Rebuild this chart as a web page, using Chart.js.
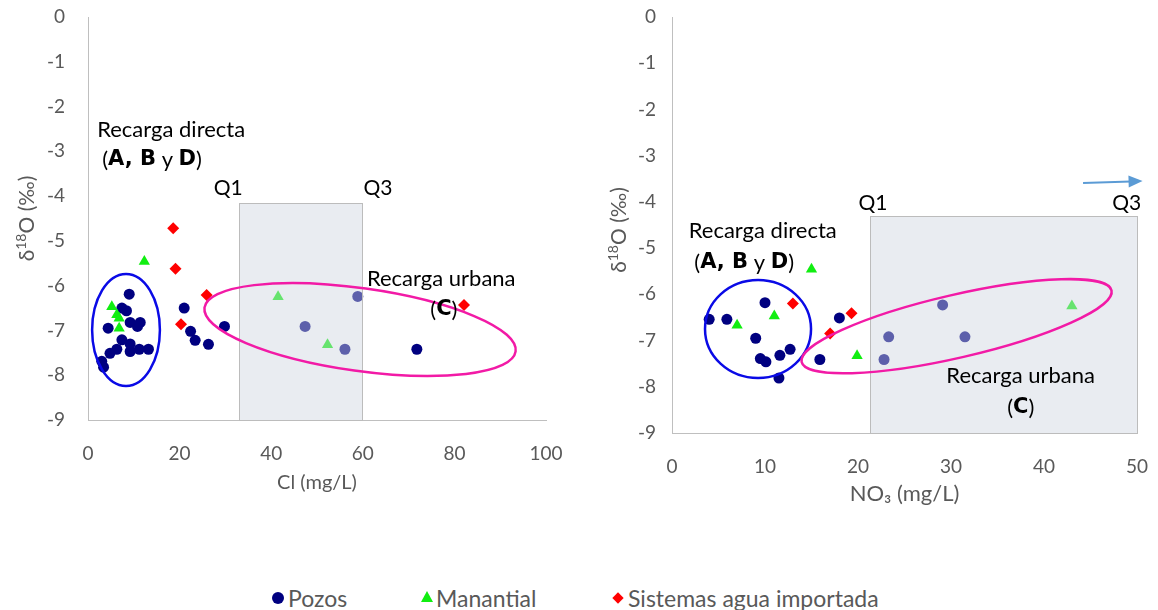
<!DOCTYPE html>
<html><head><meta charset="utf-8">
<script src="https://cdn.jsdelivr.net/npm/chart.js@4.4.0/dist/chart.umd.min.js"></script>
<style>
html,body{margin:0;padding:0;background:#fff}
body{width:1158px;height:610px;overflow:hidden;position:relative;font-family:Lato,"Open Sans",sans-serif}
#c1{position:absolute;left:0;top:0}
#c2{position:absolute;left:580px;top:0}
.lgt{position:absolute;top:583px;height:30px;line-height:30px;font-size:23px;color:#595959;white-space:nowrap}
.mk{position:absolute}
#m1{left:272px;top:592px;width:12px;height:12px;border-radius:50%;background:#000080}
#m2{left:421px;top:591px;width:0;height:0;border-left:6px solid transparent;border-right:6px solid transparent;border-bottom:11px solid #11ee11}
#m3{left:614px;top:594px;width:8px;height:8px;background:#ff0000;transform:rotate(45deg)}
</style>
</head><body>
<canvas id="c1" width="580" height="520"></canvas>
<canvas id="c2" width="578" height="520"></canvas>
<div class="mk" id="m1"></div><div class="lgt" style="left:288px">Pozos</div>
<div class="mk" id="m2"></div><div class="lgt" style="left:436px">Manantial</div>
<div class="mk" id="m3"></div><div class="lgt" style="left:628px">Sistemas agua importada</div>
<script>
// ---------- DATA ----------
const seriesNames = ['Pozos', 'Manantial', 'Sistemas agua importada'];
const d18Ticks = [0, -1, -2, -3, -4, -5, -6, -7, -8, -9];
const clTicks = [0, 20, 40, 60, 80, 100];
const no3Ticks = [0, 10, 20, 30, 40, 50];

// Left panel: Cl (mg/L) vs δ18O
const clPozosX = [9.0, 7.4, 8.4, 4.4, 9.2, 11.4, 10.8, 7.4, 9.2, 9.2, 6.3, 4.8, 11.2, 13.2, 3.0, 3.4, 21.0, 22.4, 23.4, 26.3, 29.8, 58.9, 47.4, 56.1, 71.8];
const clPozosY = [-6.19, -6.50, -6.56, -6.95, -6.82, -6.82, -6.91, -7.21, -7.30, -7.47, -7.42, -7.51, -7.42, -7.42, -7.69, -7.82, -6.50, -7.02, -7.22, -7.31, -6.91, -6.24, -6.91, -7.42, -7.42];
const clManantialX = [12.3, 5.2, 6.3, 6.8, 6.8, 41.5, 52.3];
const clManantialY = [-5.46, -6.47, -6.65, -6.73, -6.95, -6.25, -7.32];
const clSistemasX = [18.6, 19.1, 25.9, 20.3, 82.1];
const clSistemasY = [-4.72, -5.62, -6.21, -6.86, -6.43];

// Right panel: NO3 (mg/L) vs δ18O
const no3PozosX = [4.0, 5.9, 10.0, 9.0, 9.5, 10.1, 11.6, 12.7, 11.5, 18.0, 15.9, 29.1, 23.3, 31.5, 22.8];
const no3PozosY = [-6.54, -6.54, -6.18, -6.95, -7.39, -7.46, -7.32, -7.19, -7.81, -6.51, -7.41, -6.23, -6.92, -6.92, -7.41];
const no3ManantialX = [15.0, 7.0, 11.0, 19.9, 43.0];
const no3ManantialY = [-5.46, -6.67, -6.47, -7.33, -6.25];
const no3SistemasX = [13.0, 19.3, 17.0];
const no3SistemasY = [-6.20, -6.41, -6.85];

// Quartile ranges (Q1–Q3)
const clQuartiles = [33.0, 59.8];
const no3Quartiles = [21.3, 50.0];

// ---------- STYLE / LAYOUT ----------
const FONT = 'Lato, "Open Sans", sans-serif';
const GREY = '#595959';
const COLORS = ['#000080', '#11ee11', '#ff0000'];
const STYLES = ['circle', 'triangle', 'rectRot'];
const RADII = [5.5, 6.5, 6];

const pts = (xs, ys) => xs.map((v, i) => ({x: v, y: ys[i]}));

function drawParts(ctx, parts, sx, sy, align) {
  const w = parts.map(p => { ctx.font = p.font; return ctx.measureText(p.text).width; });
  if (align === 'center') sx -= w.reduce((a, b) => a + b, 0) / 2;
  parts.forEach((p, i) => { ctx.font = p.font; ctx.fillText(p.text, sx, sy + (p.dy || 0)); sx += w[i]; });
}

const annotate = {
  id: 'annotate',
  afterDatasetsDraw(chart, args, o) {
    const {ctx} = chart;
    const xs = chart.scales.x, ys = chart.scales.y;
    const px = v => xs.getPixelForValue(v), py = v => ys.getPixelForValue(v);
    ctx.save();
    // shaded Q1–Q3 box, semi-transparent over the points
    const bx0 = Math.round(px(o.box.x0)) + 0.5, bx1 = Math.round(px(o.box.x1)) + 0.5;
    const by0 = Math.round(py(o.box.yTop)) + 0.5, by1 = Math.round(py(-9)) + 0.5;
    ctx.fillStyle = 'rgba(206,213,224,0.45)';
    ctx.fillRect(bx0, by0, bx1 - bx0, by1 - by0);
    ctx.strokeStyle = '#bcbcbc'; ctx.lineWidth = 1;
    ctx.strokeRect(bx0, by0, bx1 - bx0, by1 - by0);
    // ellipses
    for (const e of o.ellipses) {
      const cx = px(e.cx), cy = py(e.cy);
      const rx = Math.abs(px(e.cx + e.rx) - cx), ry = Math.abs(py(e.cy + e.ry) - cy);
      ctx.beginPath();
      ctx.ellipse(cx, cy, rx, ry, e.rot * Math.PI / 180, 0, 2 * Math.PI);
      ctx.strokeStyle = e.color; ctx.lineWidth = 2.5; ctx.stroke();
    }
    // texts
    ctx.textBaseline = 'middle'; ctx.textAlign = 'left'; ctx.fillStyle = '#000';
    for (const t of o.texts) {
      const parts = t.parts.map(p => ({text: p[0], font: p[1] ? 'bold 21px "DejaVu Sans", Lato, sans-serif' : (t.size || 22) + 'px ' + FONT}));
      drawParts(ctx, parts, px(t.x), py(t.y), t.align);
    }
    // arrow
    if (o.arrow) {
      const a = o.arrow;
      const x0 = px(a.x0), y0 = py(a.y0), x1 = px(a.x1), y1 = py(a.y1);
      const ang = Math.atan2(y1 - y0, x1 - x0), c = Math.cos(ang), s = Math.sin(ang);
      ctx.strokeStyle = '#5b9bd5'; ctx.fillStyle = '#5b9bd5'; ctx.lineWidth = 2;
      ctx.beginPath(); ctx.moveTo(x0, y0); ctx.lineTo(x1 - 12 * c, y1 - 12 * s); ctx.stroke();
      ctx.beginPath(); ctx.moveTo(x1, y1);
      ctx.lineTo(x1 - 14 * c + 6 * s, y1 - 14 * s - 6 * c);
      ctx.lineTo(x1 - 14 * c - 6 * s, y1 - 14 * s + 6 * c);
      ctx.closePath(); ctx.fill();
    }
    // rotated y-axis title δ18O (‰) with superscript
    ctx.save();
    ctx.translate(o.yTitle.x, (chart.chartArea.top + chart.chartArea.bottom) / 2 + o.yTitle.dy);
    ctx.rotate(-Math.PI / 2);
    ctx.fillStyle = GREY;
    drawParts(ctx, [
      {text: 'δ', font: '21px ' + FONT},
      {text: '18', font: '14px ' + FONT, dy: -6},
      {text: 'O (‰)', font: '21px ' + FONT}
    ], 0, 0, 'center');
    ctx.restore();
    ctx.restore();
  }
};

function makeChart(id, p) {
  const datasets = p.series.map((s, i) => ({
    label: seriesNames[i], data: s, order: 3 - i,
    pointStyle: STYLES[i], pointRadius: RADII[i], pointHoverRadius: RADII[i],
    backgroundColor: COLORS[i], borderColor: COLORS[i], borderWidth: 0, showLine: false
  }));
  const chart = new Chart(document.getElementById(id), {
    type: 'scatter',
    data: {datasets},
    plugins: [annotate],
    options: {
      responsive: false, animation: false, devicePixelRatio: 1,
      layout: {padding: {left: 0, top: p.area.top, right: p.canvasW - p.area.right, bottom: 0}},
      plugins: {legend: {display: false}, tooltip: {enabled: false}, annotate: p.annot},
      scales: {
        x: {
          type: 'linear', min: p.xTicks[0], max: p.xTicks[p.xTicks.length - 1],
          afterBuildTicks: s => { s.ticks = p.xTicks.map(v => ({value: v})); },
          afterFit: s => { s.height = p.xHeight; s.paddingLeft = 0; s.paddingRight = 0; },
          grid: {display: false, drawTicks: false},
          border: {display: true, color: '#bfbfbf', width: 1},
          ticks: {color: GREY, font: {family: FONT, size: 19}, padding: 22, maxRotation: 0},
          title: {display: true, text: p.xTitle, color: GREY, font: {family: FONT, size: p.xTitleSize}, padding: {top: 0, bottom: p.xTitlePad}}
        },
        y: {
          type: 'linear', min: -9, max: 0,
          afterBuildTicks: s => { s.ticks = d18Ticks.map(v => ({value: v})); },
          afterFit: s => { s.width = p.yWidth; s.paddingTop = 0; s.paddingBottom = 0; },
          grid: {display: false, drawTicks: false},
          border: {display: true, color: '#bfbfbf', width: 1},
          ticks: {color: GREY, font: {family: FONT, size: 19}, padding: p.yTickPad},
          title: {display: false}
        }
      }
    }
  });
  // nudge layout so the plot area lands exactly on the target rectangle
  for (let k = 0; k < 4; k++) {
    const a = chart.chartArea, t = p.area;
    const dl = t.left - a.left, dt = t.top - a.top, dr = a.right - t.right, db = a.bottom - t.bottom;
    if (Math.abs(dl) + Math.abs(dt) + Math.abs(dr) + Math.abs(db) < 0.5) break;
    p.yWidth += dl; p.xHeight += db;
    const pad = chart.options.layout.padding;
    pad.top += dt; pad.right += dr;
    chart.update();
  }
  return chart;
}

makeChart('c1', {
  series: [pts(clPozosX, clPozosY), pts(clManantialX, clManantialY), pts(clSistemasX, clSistemasY)],
  canvasW: 580, area: {left: 88, top: 17, right: 546, bottom: 420},
  xTicks: clTicks, xTitle: 'Cl (mg/L)', xTitleSize: 20, xHeight: 100, xTitlePad: 25, yWidth: 88, yTickPad: 23,
  annot: {
    yTitle: {x: 27, dy: 0},
    box: {x0: clQuartiles[0], x1: clQuartiles[1], yTop: -4.15},
    ellipses: [
      {cx: 8.3, cy: -6.99, rx: 7.4, ry: 1.25, rot: 0, color: '#0a0ae6'},
      {cx: 59.4, cy: -6.98, rx: 34.3, ry: 0.924, rot: 8, color: '#f21aa6'}
    ],
    texts: [
      {parts: [['Q1', 0]], x: 30.6, y: -3.82, align: 'center', size: 21},
      {parts: [['Q3', 0]], x: 63.3, y: -3.82, align: 'center', size: 21},
      {parts: [['Recarga directa', 0]], x: 2.0, y: -2.52},
      {parts: [['(', 0], ['A, B', 1], [' y ', 0], ['D', 1], [')', 0]], x: 3.1, y: -3.19},
      {parts: [['Recarga urbana', 0]], x: 60.9, y: -5.85},
      {parts: [['(', 0], ['C', 1], [')', 0]], x: 77.7, y: -6.54, align: 'center'}
    ]
  }
});

makeChart('c2', {
  series: [pts(no3PozosX, no3PozosY), pts(no3ManantialX, no3ManantialY), pts(no3SistemasX, no3SistemasY)],
  canvasW: 578, area: {left: 92, top: 17, right: 557, bottom: 433},
  xTicks: no3Ticks, xTitle: 'NO₃ (mg/L)', xTitleSize: 22, xHeight: 87, xTitlePad: 13, yWidth: 92, yTickPad: 16,
  annot: {
    yTitle: {x: 39, dy: 5},
    box: {x0: no3Quartiles[0], x1: no3Quartiles[1], yTop: -4.31},
    ellipses: [
      {cx: 9.25, cy: -6.75, rx: 5.7, ry: 1.06, rot: 0, color: '#0a0ae6'},
      {cx: 30.6, cy: -6.69, rx: 17.1, ry: 0.68, rot: -13, color: '#f21aa6'}
    ],
    texts: [
      {parts: [['Q1', 0]], x: 21.6, y: -4.03, align: 'center', size: 21},
      {parts: [['Q3', 0]], x: 48.9, y: -4.03, align: 'center', size: 21},
      {parts: [['Recarga directa', 0]], x: 1.8, y: -4.63},
      {parts: [['(', 0], ['A, B', 1], [' y ', 0], ['D', 1], [')', 0]], x: 2.4, y: -5.32},
      {parts: [['Recarga urbana', 0]], x: 29.5, y: -7.77},
      {parts: [['(', 0], ['C', 1], [')', 0]], x: 37.5, y: -8.46, align: 'center'}
    ],
    arrow: {x0: 44.2, y0: -3.59, x1: 50.6, y1: -3.55}
  }
});
</script>
</body></html>
